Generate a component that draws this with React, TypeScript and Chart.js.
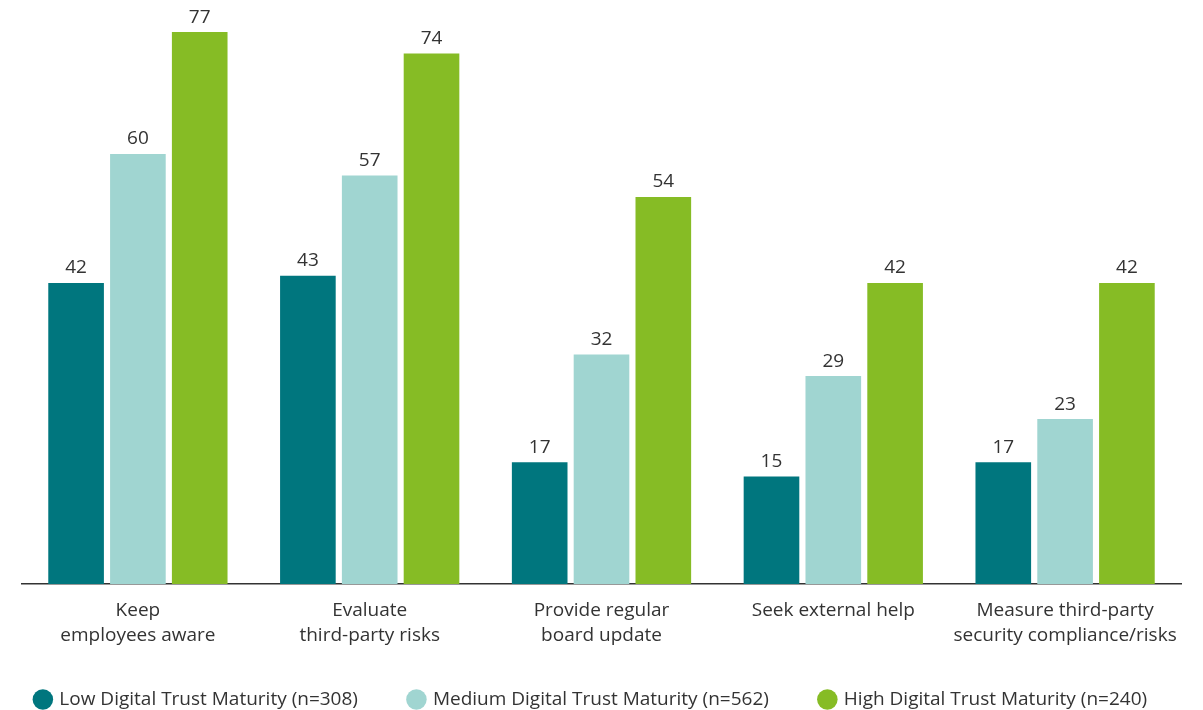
import React, { useEffect, useRef } from "react";
import { Chart, registerables } from "chart.js";

Chart.register(...registerables);

const categories: string[][] = [
  ["Keep", "employees aware"],
  ["Evaluate", "third-party risks"],
  ["Provide regular", "board update"],
  ["Seek external help"],
  ["Measure third-party", "security compliance/risks"],
];
const seriesNames = [
  "Low Digital Trust Maturity (n=308)",
  "Medium Digital Trust Maturity (n=562)",
  "High Digital Trust Maturity (n=240)",
];
const lowValues = [42, 43, 17, 15, 17];
const mediumValues = [60, 57, 32, 29, 23];
const highValues = [77, 74, 54, 42, 42];
const colors = ["#00767E", "#A0D5D1", "#86BC25"];

const FONT = "'Open Sans', sans-serif";
const TEXT = "#333333";

const valueLabels = {
  id: "valueLabels",
  afterDatasetsDraw(chart: any) {
    const ctx = chart.ctx;
    ctx.save();
    ctx.font = `19px ${FONT}`;
    ctx.fillStyle = TEXT;
    ctx.textAlign = "center";
    ctx.textBaseline = "alphabetic";
    chart.data.datasets.forEach((ds: any, i: number) => {
      const meta = chart.getDatasetMeta(i);
      meta.data.forEach((el: any, j: number) => {
        ctx.fillText(String(ds.data[j]), el.x, el.y - 9.5);
      });
    });
    ctx.restore();
  },
};

export default function App() {
  const ref = useRef<HTMLCanvasElement>(null);
  useEffect(() => {
    if (!ref.current) return;
    const chart = new Chart(ref.current, {
      type: "bar",
      data: {
        labels: categories,
        datasets: [lowValues, mediumValues, highValues].map((d, i) => ({
          label: seriesNames[i],
          data: d,
          backgroundColor: colors[i],
          borderWidth: 0,
          categoryPercentage: 0.8,
          barPercentage: 0.9,
        })),
      },
      options: {
        animation: false,
        responsive: true,
        maintainAspectRatio: false,
        layout: { padding: { left: 2, right: 22, top: 10.5, bottom: 0 } },
        plugins: {
          tooltip: { enabled: false },
          legend: {
            position: "bottom",
            labels: {
              usePointStyle: true,
              pointStyle: "circle",
              boxWidth: 14,
              boxHeight: 14.5,
              padding: 12,
              color: TEXT,
              font: { family: FONT, size: 19 },
              generateLabels: (chart: any) => {
                const items = Chart.defaults.plugins.legend.labels.generateLabels(chart);
                return items.map((it: any, i: number) =>
                  i < items.length - 1 ? { ...it, text: it.text + "        " } : it
                );
              },
            },
          },
        },
        scales: {
          x: {
            grid: { display: false, drawTicks: false },
            border: { display: true, color: "#333333", width: 1.5 },
            ticks: {
              color: TEXT,
              font: { family: FONT, size: 19, lineHeight: 1.316 },
              padding: 14,
              maxRotation: 0,
              autoSkip: false,
            },
            afterFit: (s: any) => {
              s.height = 94;
            },
          },
          y: {
            display: true,
            min: 0,
            max: 80,
            grid: { display: false, drawTicks: false },
            border: { display: false },
            ticks: { display: false },
            afterFit: (s: any) => {
              s.width = 20;
            },
          },
        },
      },
      plugins: [valueLabels],
    });
    return () => chart.destroy();
  }, []);
  return (
    <div style={{ position: "fixed", left: 0, top: 0, width: 1203, height: 719, background: "#fff" }}>
      <canvas ref={ref} />
    </div>
  );
}
